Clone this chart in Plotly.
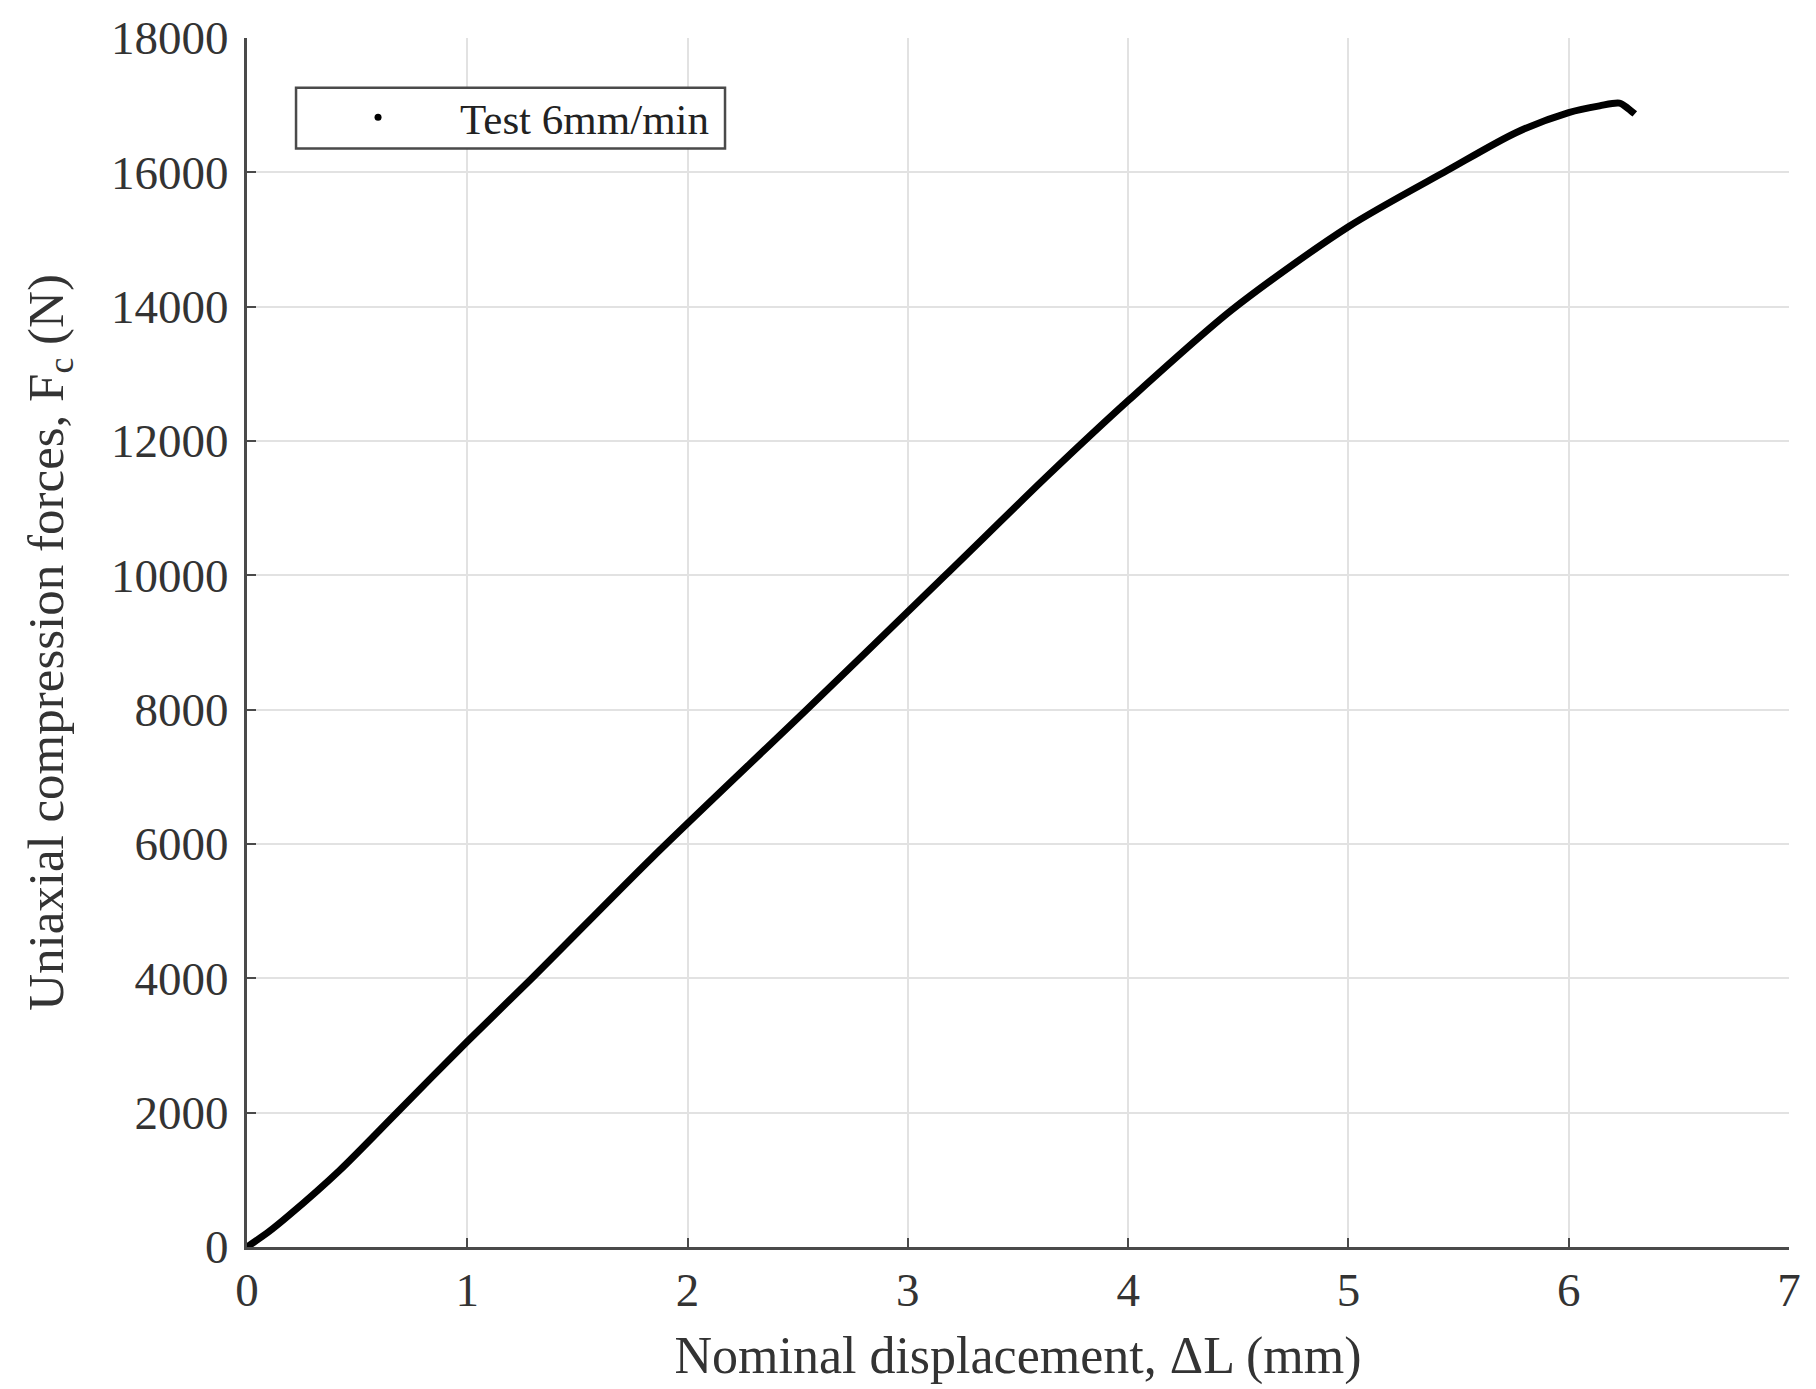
import plotly.graph_objects as go

displacement_mm = [0.0, 0.10, 0.19, 0.42, 0.68, 1.00, 1.29, 1.84, 2.54, 3.17, 3.64,
                   4.00, 4.47, 5.00, 5.45, 5.76, 6.00, 6.14, 6.23, 6.27, 6.30]
force_N = [0, 230, 470, 1140, 2000, 3060, 3990, 5800, 8000, 10000, 11500,
           12600, 13950, 15190, 16030, 16590, 16890, 16990, 17030, 16950, 16870]

series_name = "Test 6mm/min"
x_ticks = [0, 1, 2, 3, 4, 5, 6, 7]
y_ticks = [0, 2000, 4000, 6000, 8000, 10000, 12000, 14000, 16000, 18000]

FONT = "Liberation Serif, Times New Roman, serif"
AX = "#4a4a4a"
GRID = "#e2e2e2"

fig = go.Figure()
fig.add_trace(go.Scatter(x=displacement_mm, y=force_N, mode="lines",
                         line=dict(color="black", width=7, shape="spline", smoothing=0.8),
                         showlegend=False, hoverinfo="x+y"))
fig.add_trace(go.Scatter(x=[None], y=[None], mode="markers", name=series_name,
                         marker=dict(color="black", size=7)))

axis_common = dict(showline=True, linecolor=AX, linewidth=3, mirror=False,
                   showgrid=True, gridcolor=GRID, gridwidth=2, zeroline=False,
                   ticks="inside", ticklen=9, tickwidth=2, tickcolor=AX,
                   tickfont=dict(family=FONT, size=47, color="#333333"))

fig.update_xaxes(range=[0, 7], tickvals=x_ticks, ticktext=[str(v) for v in x_ticks],
                 title=dict(text="Nominal displacement, ΔL (mm)",
                            font=dict(family=FONT, size=52, color="#333333"), standoff=22),
                 **axis_common)
fig.update_yaxes(range=[0, 18000], tickvals=y_ticks, ticktext=[str(v) for v in y_ticks],
                 ticklabelstandoff=6,
                 title=dict(text="Uniaxial compression forces, F<sub>c</sub> (N)",
                            font=dict(family=FONT, size=51, color="#333333"), standoff=32),
                 **axis_common)

# legend frame
fig.add_shape(type="rect", xref="paper", yref="paper",
              x0=0.0318, x1=0.310, y0=0.9086, y1=0.9588,
              line=dict(color=AX, width=2.5), fillcolor="white", layer="above")

fig.update_layout(
    width=1816, height=1389,
    margin=dict(l=247, r=27, t=33, b=142),
    paper_bgcolor="white", plot_bgcolor="white",
    legend=dict(x=0.0318, y=0.963, xanchor="left", yanchor="top",
                bgcolor="rgba(0,0,0,0)", borderwidth=0,
                font=dict(family=FONT, size=43, color="#222222"),
                itemwidth=154),
)

fig.write_html("out.html")
